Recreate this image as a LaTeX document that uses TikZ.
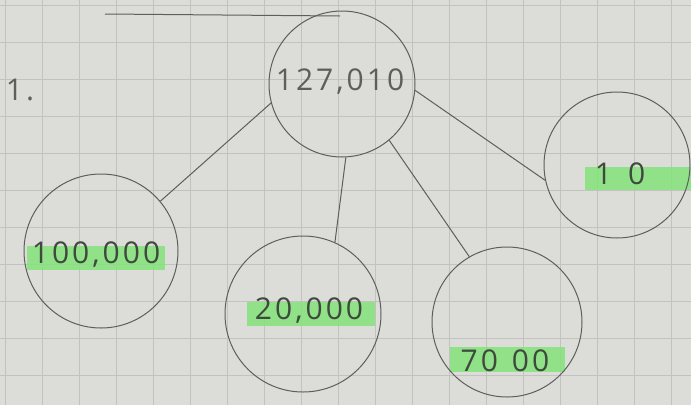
\documentclass[tikz,border=0pt]{standalone}
\usepackage{fontspec}
\setmainfont{Open Sans}
\newfontfamily\hand[LetterSpace=10]{Open Sans}
\usetikzlibrary{positioning}
\definecolor{paper}{HTML}{DCDCD9}
\definecolor{gridline}{HTML}{C2C2BE}
\definecolor{pencil}{HTML}{5E5E5C}
\definecolor{ink}{HTML}{3E4A3C}
\definecolor{marker}{HTML}{84E27C}
\tikzset{
  bubble/.style={circle,draw=pencil,line width=1pt,minimum size=#1,inner sep=0pt},
  digits/.style={font=\hand\fontsize{30}{30}\selectfont,text=ink,inner sep=0pt},
  twig/.style={draw=pencil,line width=1pt},
  glow/.style={fill=marker,opacity=0.85}
}

\begin{document}
\begin{tikzpicture}[x=1pt,y=-1pt]
  \useasboundingbox (0,0) rectangle (691,405);
  \fill[paper] (0,0) rectangle (691,405);
  \foreach \x in {5,42,...,691} {
    \draw[gridline,line width=0.8pt] (\x,0) -- (\x,405);
  }
  \foreach \y in {5,42,...,405} {
    \draw[gridline,line width=0.8pt] (0,\y) -- (691,\y);
  }
  \draw[pencil,line width=1pt] (105,14) -- (340,16);
  \node[font=\hand\fontsize{30}{30}\selectfont,text=pencil] (num) at (20,90) {1.};

  \fill[glow] (27,246) rectangle (165,270);
  \fill[glow] (247,302) rectangle (375,326);
  \fill[glow] (450,347) rectangle (565,372);
  \fill[glow] (585,167) rectangle (691,190);

  \node[bubble=146pt] (root) at (342,84) {};
  \node[bubble=154pt] (left) at (101,251) {};
  \node[bubble=156pt] (mid) at (303,314) {};
  \node[bubble=150pt] (third) at (507,322) {};
  \node[bubble=146pt] (right) at (617,165) {};

  \node[digits,text=pencil] (roottxt) at (340,82) {127,010};
  \node[digits] (lefttxt) at (96,255) {100,000};
  \node[digits] (midtxt) at (309,311) {20,000};
  \node[digits] (thirdtxt) at (505,361) {70\kern14pt 00};
  \node[digits] (righttxt) at (620,174) {1\kern16pt 0};

  \draw[twig] (root.195) -- (left.40);
  \draw[twig] (root.-87) -- (mid.66);
  \draw[twig] (root.-50) -- (third.120);
  \draw[twig] (root.-5) -- (right.192);
\end{tikzpicture}
\end{document}
